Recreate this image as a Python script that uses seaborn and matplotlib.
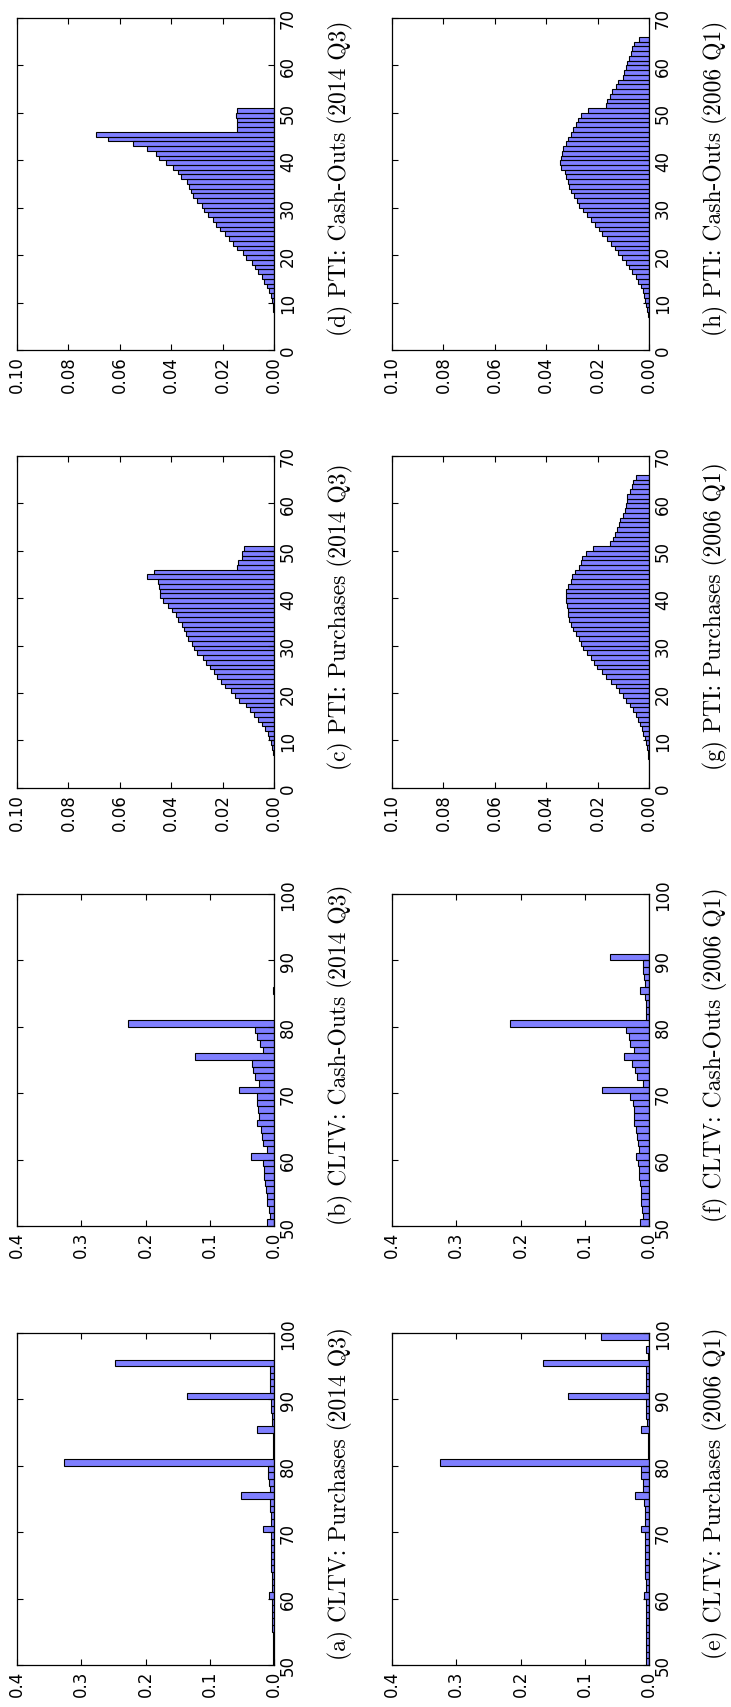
import matplotlib
matplotlib.use('Agg')
import matplotlib.pyplot as plt
import numpy as np
import pandas as pd
import seaborn as sns

# CLTV histograms, one value per 1-point bin starting at 50
cltv_start = 50
cltv_purch_2014 = [0.002, 0.002, 0.002, 0.002, 0.002, 0.003, 0.003, 0.003, 0.003, 0.003,
                   0.008, 0.003, 0.003, 0.003, 0.004, 0.004, 0.005, 0.004, 0.004, 0.004,
                   0.017, 0.005, 0.005, 0.006, 0.006, 0.051, 0.007, 0.008, 0.009, 0.010,
                   0.327, 0.002, 0.002, 0.002, 0.002, 0.027, 0.003, 0.003, 0.004, 0.005,
                   0.135, 0.006, 0.006, 0.007, 0.007, 0.247, 0.0, 0.0, 0.0, 0.0]
cltv_cash_2014 = [0.011, 0.006, 0.008, 0.011, 0.011, 0.013, 0.014, 0.015, 0.016, 0.017,
                  0.036, 0.011, 0.017, 0.019, 0.021, 0.026, 0.023, 0.025, 0.027, 0.027,
                  0.055, 0.024, 0.030, 0.032, 0.035, 0.123, 0.017, 0.022, 0.026, 0.030,
                  0.227, 0.0, 0.0, 0.0, 0.0, 0.001, 0.0, 0.0, 0.0, 0.0,
                  0.0, 0.0, 0.0, 0.0, 0.0, 0.0, 0.0, 0.0, 0.0, 0.0]
cltv_purch_2006 = [0.004, 0.004, 0.004, 0.005, 0.005, 0.005, 0.005, 0.005, 0.005, 0.005,
                   0.008, 0.005, 0.005, 0.006, 0.006, 0.006, 0.006, 0.006, 0.006, 0.006,
                   0.013, 0.006, 0.007, 0.007, 0.008, 0.022, 0.009, 0.010, 0.012, 0.013,
                   0.325, 0.002, 0.002, 0.002, 0.002, 0.012, 0.003, 0.004, 0.004, 0.005,
                   0.126, 0.005, 0.005, 0.005, 0.005, 0.165, 0.001, 0.005, 0.0, 0.075]
cltv_cash_2006 = [0.014, 0.010, 0.011, 0.012, 0.013, 0.013, 0.014, 0.015, 0.016, 0.017,
                  0.020, 0.016, 0.017, 0.018, 0.020, 0.023, 0.023, 0.024, 0.025, 0.029,
                  0.073, 0.010, 0.018, 0.022, 0.027, 0.039, 0.023, 0.029, 0.031, 0.036,
                  0.216, 0.004, 0.004, 0.005, 0.007, 0.014, 0.007, 0.008, 0.009, 0.010,
                  0.061, 0.0, 0.0, 0.0, 0.0, 0.0, 0.0, 0.0, 0.0, 0.0]

# PTI histograms, one value per 1-point bin starting at 0
pti_start = 0
pti_purch_2014 = [0.0, 0.0, 0.0, 0.0001, 0.0001, 0.0001, 0.0002, 0.0004, 0.0008, 0.0013,
                  0.0018, 0.0025, 0.0035, 0.0048, 0.0061, 0.0078, 0.0094, 0.0110, 0.0135, 0.0152,
                  0.0169, 0.0191, 0.0206, 0.0223, 0.0232, 0.0249, 0.0266, 0.0275, 0.0299, 0.0310,
                  0.0321, 0.0334, 0.0343, 0.0350, 0.0360, 0.0373, 0.0383, 0.0396, 0.0414, 0.0431,
                  0.0442, 0.0444, 0.0447, 0.0453, 0.0496, 0.0466, 0.0145, 0.0142, 0.0126, 0.0126,
                  0.0116]
pti_cash_2014 = [0.0, 0.0, 0.0, 0.0, 0.0, 0.0001, 0.0001, 0.0002, 0.0004, 0.0006,
                 0.0009, 0.0013, 0.0018, 0.0029, 0.0038, 0.0048, 0.0061, 0.0074, 0.0087, 0.0109,
                 0.0122, 0.0143, 0.0158, 0.0174, 0.0191, 0.0210, 0.0226, 0.0239, 0.0256, 0.0273,
                 0.0282, 0.0299, 0.0314, 0.0325, 0.0330, 0.0340, 0.0362, 0.0375, 0.0395, 0.0421,
                 0.0447, 0.0460, 0.0494, 0.0550, 0.0645, 0.0694, 0.0145, 0.0145, 0.0145, 0.0148,
                 0.0143]
pti_purch_2006 = [0.0001, 0.0001, 0.0001, 0.0001, 0.0001, 0.0002, 0.0003, 0.0005, 0.0008, 0.0012,
                  0.0017, 0.0022, 0.0029, 0.0035, 0.0043, 0.0052, 0.0062, 0.0074, 0.0088, 0.0101,
                  0.0117, 0.0130, 0.0149, 0.0169, 0.0184, 0.0201, 0.0214, 0.0227, 0.0243, 0.0256,
                  0.0264, 0.0273, 0.0286, 0.0296, 0.0305, 0.0312, 0.0316, 0.0316, 0.0318, 0.0322,
                  0.0325, 0.0322, 0.0314, 0.0305, 0.0299, 0.0290, 0.0273, 0.0266, 0.0260, 0.0247,
                  0.0217, 0.0152, 0.0139, 0.0132, 0.0126, 0.0117, 0.0113, 0.0101, 0.0095, 0.0091,
                  0.0087, 0.0084, 0.0075, 0.0068, 0.0061, 0.0049]
pti_cash_2006 = [0.0, 0.0, 0.0, 0.0, 0.0, 0.0001, 0.0002, 0.0004, 0.0007, 0.0010,
                 0.0014, 0.0019, 0.0025, 0.0032, 0.0043, 0.0052, 0.0065, 0.0078, 0.0091, 0.0104,
                 0.0121, 0.0134, 0.0149, 0.0165, 0.0182, 0.0195, 0.0210, 0.0225, 0.0240, 0.0256,
                 0.0273, 0.0282, 0.0292, 0.0303, 0.0312, 0.0314, 0.0322, 0.0327, 0.0344, 0.0347,
                 0.0344, 0.0340, 0.0334, 0.0325, 0.0316, 0.0305, 0.0296, 0.0286, 0.0277, 0.0266,
                 0.0238, 0.0169, 0.0165, 0.0152, 0.0143, 0.0130, 0.0121, 0.0101, 0.0097, 0.0088,
                 0.0084, 0.0078, 0.0071, 0.0065, 0.0058, 0.0039]

captions = ['(a) CLTV: Purchases (2014 Q3)', '(b) CLTV: Cash-Outs (2014 Q3)',
            '(c) PTI: Purchases (2014 Q3)', '(d) PTI: Cash-Outs (2014 Q3)',
            '(e) CLTV: Purchases (2006 Q1)', '(f) CLTV: Cash-Outs (2006 Q1)',
            '(g) PTI: Purchases (2006 Q1)', '(h) PTI: Cash-Outs (2006 Q1)']
series = [cltv_purch_2014, cltv_cash_2014, pti_purch_2014, pti_cash_2014,
          cltv_purch_2006, cltv_cash_2006, pti_purch_2006, pti_cash_2006]
starts = [cltv_start, cltv_start, pti_start, pti_start,
          cltv_start, cltv_start, pti_start, pti_start]

# the page is turned: panels run bottom to top, bars grow to the left
col_left = [0.0233, 0.5363]
row_bottom = [0.0246, 0.2816, 0.5381, 0.7945]
ax_w, ax_h = 0.3516, 0.1944

fig = plt.figure(figsize=(7.31, 17.08), dpi=100)

for i, (cap, vals, start) in enumerate(zip(captions, series, starts)):
    col, row = divmod(i, 4)
    ax = fig.add_axes([col_left[col], row_bottom[row], ax_w, ax_h])
    df = pd.DataFrame({'bin': start + 0.5 + np.arange(len(vals)), 'share': vals})
    sns.histplot(data=df, y='bin', weights='share', binwidth=1,
                 binrange=(start, start + len(vals)), color='blue',
                 alpha=0.5, edgecolor='black', linewidth=0.8, ax=ax)
    ax.set_xlabel('')
    ax.set_ylabel('')
    if start == cltv_start:
        ticks = np.arange(0, 0.41, 0.1)
        ax.set_xlim(0.4, 0)
        ax.set_xticks(ticks)
        ax.set_xticklabels([f'{t:.1f}' for t in ticks])
        ax.set_ylim(50, 100)
        ax.set_yticks(range(50, 101, 10))
    else:
        ticks = np.arange(0, 0.101, 0.02)
        ax.set_xlim(0.10, 0)
        ax.set_xticks(ticks)
        ax.set_xticklabels([f'{t:.2f}' for t in ticks])
        ax.set_ylim(0, 70)
        ax.set_yticks(range(0, 71, 10))
    ax.tick_params(direction='in', length=4, width=0.8, labelsize=12,
                   top=True, bottom=True, left=True, right=True)
    ax.tick_params(axis='y', labelleft=False, labelright=True, labelrotation=90)
    ax.tick_params(axis='x', labelrotation=90)
    for lab in ax.get_yticklabels():
        lab.set_verticalalignment('center')
    for sp in ax.spines.values():
        sp.set_linewidth(0.9)
    ax.text(1.257, 0.52, cap, transform=ax.transAxes, rotation=90,
            ha='center', va='center', fontsize=17, family=['cmr10', 'DejaVu Serif'])

fig.savefig('out.png', dpi=100)
